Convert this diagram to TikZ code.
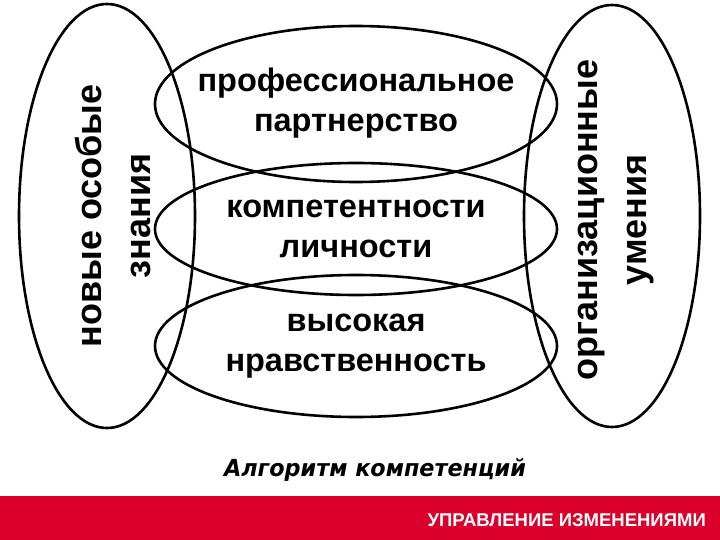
\documentclass[tikz,border=0pt]{standalone}
\usepackage{fontspec}
\setmainfont{Liberation Sans}
\newfontfamily\capfont{DejaVu Sans}
\usetikzlibrary{shapes.geometric}
\definecolor{bandred}{RGB}{218,0,43}

\begin{document}
\begin{tikzpicture}[x=1pt,y=-1pt,
	oval/.style={draw,ellipse,line width=2.6pt,inner sep=0pt},
	label/.style={align=center,inner sep=0pt,font=\fontsize{32.5}{40}\selectfont\bfseries},
	sidelabel/.style={label,rotate=90,font=\fontsize{36}{49}\selectfont\bfseries}]
	\useasboundingbox (0,0) rectangle (720,540);
	\fill[bandred] (0,496) rectangle (720,540);
	% three middle ovals
	\node[oval,minimum width=402pt,minimum height=156pt] (prof) at (356,104) {};
	\node[oval,minimum width=402pt,minimum height=132pt] (komp) at (356,229) {};
	\node[oval,minimum width=402pt,minimum height=142pt] (nrav) at (356,346) {};
	% side ovals
	\node[oval,minimum width=176pt,minimum height=424pt] (znan) at (107,216) {};
	\node[oval,minimum width=176pt,minimum height=422pt] (umen) at (612,216) {};
	\node[label] (proftext) at ([yshift=1pt]prof.center) {профессиональное\\партнерство};
	\node[label] (komptext) at (komp.center) {компетентности\\личности};
	\node[label] (nravtext) at (nrav.center) {высокая\\нравственность};
	\node[sidelabel] (znantext) at ([xshift=6pt]znan.center) {новые особые\\знания};
	\node[sidelabel] (umentext) at ([xshift=4pt,yshift=-4pt]umen.center) {организационные\\умения};
	\node[transform shape,xscale=0.95,font=\capfont\bfseries\itshape\fontsize{23.5}{27}\selectfont] (cap) at (375,470) {Алгоритм компетенций};
	\node[anchor=east,inner sep=0pt,text=white,font=\bfseries\fontsize{18.5}{22}\selectfont] (band) at (706,520) {УПРАВЛЕНИЕ ИЗМЕНЕНИЯМИ};
\end{tikzpicture}
\end{document}
